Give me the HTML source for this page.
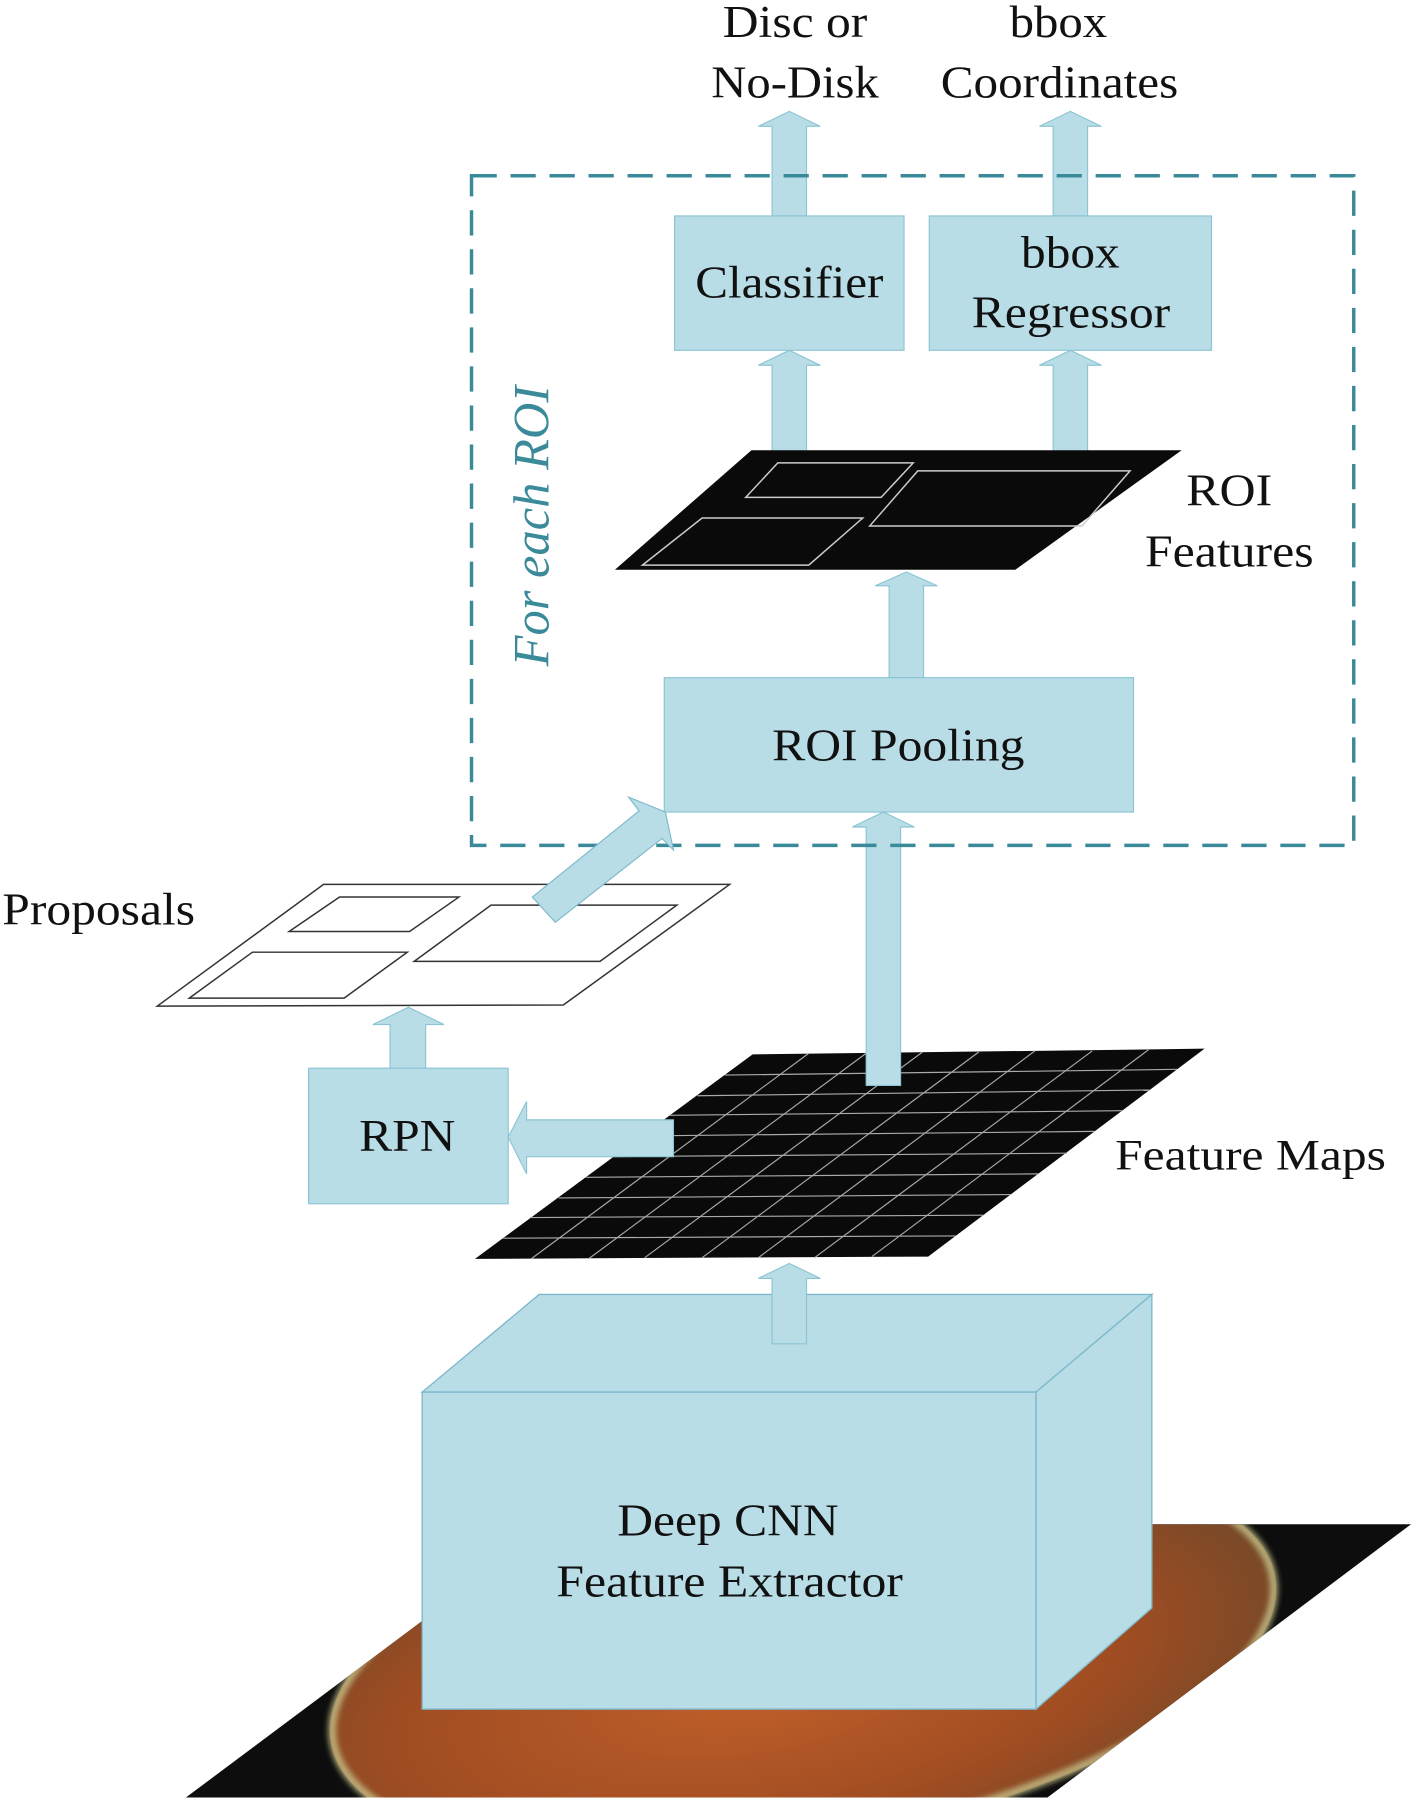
<!DOCTYPE html>
<html><head><meta charset="utf-8"><style>
html,body{margin:0;padding:0;background:#fff;overflow:hidden;width:1418px;height:1801px}
svg{display:block;position:absolute;left:0;top:0}
text{font-family:"Liberation Serif",serif;fill:#111}
</style></head><body>
<svg width="1418" height="1801" viewBox="0 0 1236 1568" preserveAspectRatio="none" xmlns="http://www.w3.org/2000/svg">
<defs>
<clipPath id="fc"><polygon points="162,1565 481,1327 1230,1327 913,1565"/></clipPath>
<radialGradient id="eye" cx="0.45" cy="0.55" r="0.55">
<stop offset="0" stop-color="#c0602a"/><stop offset="0.7" stop-color="#a04c22"/><stop offset="1" stop-color="#7a4a28"/>
</radialGradient>
<filter id="bl"><feGaussianBlur stdDeviation="2.5"/></filter>
</defs>
<polygon points="162,1565 481,1327 1230,1327 913,1565" fill="#0d0d0d"/>
<g clip-path="url(#fc)">
<ellipse cx="700" cy="1445" rx="418" ry="160" fill="url(#eye)" transform="rotate(-10 700 1445)"/>
<ellipse cx="700" cy="1445" rx="416" ry="158" fill="none" stroke="#c8c890" stroke-width="7" opacity="0.8" filter="url(#bl)" transform="rotate(-10 700 1445)"/>
</g>
<g fill="#b8dde7" stroke="#7fb9cc" stroke-width="1.2">
<polygon points="368,1212 470,1127 1004,1127 903,1212"/>
<polygon points="903,1212 1004,1127 1004,1400 903,1488"/>
<rect x="368" y="1212" width="535" height="276"/>
</g>
<text x="538" y="1337" font-size="40" textLength="193" lengthAdjust="spacingAndGlyphs">Deep CNN</text>
<text x="485" y="1390" font-size="40" textLength="302" lengthAdjust="spacingAndGlyphs">Feature Extractor</text>
<polygon points="414,1096 656,918 1050,913 809,1094" fill="#0a0a0a"/>
<g stroke="#aaa" stroke-width="1">
<line x1="632" y1="936" x2="1026" y2="931"/><line x1="608" y1="954" x2="1002" y2="949"/>
<line x1="583" y1="971" x2="978" y2="967"/><line x1="559" y1="989" x2="954" y2="985"/>
<line x1="535" y1="1007" x2="930" y2="1004"/><line x1="511" y1="1025" x2="905" y2="1022"/>
<line x1="487" y1="1043" x2="881" y2="1040"/><line x1="462" y1="1060" x2="857" y2="1058"/>
<line x1="438" y1="1078" x2="833" y2="1076"/>
<line x1="705" y1="917" x2="463" y2="1096"/><line x1="755" y1="917" x2="513" y2="1096"/>
<line x1="804" y1="916" x2="562" y2="1095"/><line x1="853" y1="916" x2="612" y2="1095"/>
<line x1="902" y1="915" x2="661" y2="1095"/><line x1="952" y1="915" x2="710" y2="1095"/>
<line x1="1001" y1="914" x2="760" y2="1094"/>
</g>
<text x="972" y="1018" font-size="38" textLength="236" lengthAdjust="spacingAndGlyphs">Feature Maps</text>
<g fill="#b8dde7" stroke="#8cc4d4" stroke-width="1">
<polygon points="673,1170 673,1113 661,1113 688,1100 715,1113 703,1113 703,1170"/>
<polygon points="587,975 459,975 459,959 443,990 459,1022 459,1007 587,1007"/>
<polygon points="340,930 340,892 325,892 356,877 387,892 371,892 371,930"/>
<polygon points="755,945 755,720 743,720 770,707 797,720 785,720 785,945"/>
<polygon points="775,590 775,510 763,510 790,498 817,510 805,510 805,590"/>
<polygon points="673,395 673,318 661,318 688,305 715,318 703,318 703,395"/>
<polygon points="918,398 918,318 906,318 933,305 960,318 948,318 948,398"/>
<polygon points="673,188 673,110 661,110 688,97 715,110 703,110 703,188"/>
<polygon points="918,188 918,110 906,110 933,97 960,110 948,110 948,188"/>
</g>
<rect x="269" y="930" width="174" height="118" fill="#b8dde7" stroke="#8cc4d4"/>
<text x="313" y="1002" font-size="40" textLength="84" lengthAdjust="spacingAndGlyphs">RPN</text>
<g fill="none" stroke="#333" stroke-width="1.3">
<polygon points="137,876 282,770 636,770 491,875"/>
<polygon points="165,869 220,829 355,829 300,869"/>
<polygon points="252,811 296,781 400,781 357,811"/>
<polygon points="361,837 428,788 590,788 523,837"/>
</g>
<text x="2" y="805" font-size="40" textLength="168" lengthAdjust="spacingAndGlyphs">Proposals</text>
<rect x="579" y="590" width="409" height="117" fill="#b8dde7" stroke="#8cc4d4"/>
<text x="673" y="662" font-size="40" textLength="220" lengthAdjust="spacingAndGlyphs">ROI Pooling</text>
<polygon points="536,496 655,392 1030,392 885,496" fill="#0a0a0a"/>
<g fill="none" stroke="#ccc" stroke-width="1.3">
<polygon points="650,433 678,403 796,403 768,433"/>
<polygon points="560,492 612,451 752,451 705,492"/>
<polygon points="758,458 800,410 985,410 943,458"/>
</g>
<text x="1034" y="440" font-size="40" textLength="75" lengthAdjust="spacingAndGlyphs">ROI</text>
<text x="998" y="493" font-size="40" textLength="147" lengthAdjust="spacingAndGlyphs">Features</text>
<rect x="588" y="188" width="200" height="117" fill="#b8dde7" stroke="#8cc4d4"/>
<rect x="810" y="188" width="246" height="117" fill="#b8dde7" stroke="#8cc4d4"/>
<text x="606" y="259" font-size="40" textLength="164" lengthAdjust="spacingAndGlyphs">Classifier</text>
<text x="890" y="233" font-size="40" textLength="86" lengthAdjust="spacingAndGlyphs">bbox</text>
<text x="847" y="285" font-size="40" textLength="173" lengthAdjust="spacingAndGlyphs">Regressor</text>
<rect x="411" y="153" width="769" height="583" fill="none" stroke="#3a8a9a" stroke-width="3" stroke-dasharray="22,12"/>
<polygon points="464,781 557,706 548,694 580,707 587,740 577,730 484,803" fill="#b8dde7" stroke="#7fb9cc"/>
<text x="0" y="0" font-size="44" font-style="italic" style="fill:#3a8a9a" text-anchor="middle" transform="translate(478 458) rotate(-90)">For each ROI</text>
<text x="630" y="32" font-size="40" textLength="126" lengthAdjust="spacingAndGlyphs">Disc or</text>
<text x="620" y="85" font-size="40" textLength="146" lengthAdjust="spacingAndGlyphs">No-Disk</text>
<text x="880" y="32" font-size="40" textLength="85" lengthAdjust="spacingAndGlyphs">bbox</text>
<text x="820" y="85" font-size="40" textLength="207" lengthAdjust="spacingAndGlyphs">Coordinates</text>
</svg>
</body></html>
